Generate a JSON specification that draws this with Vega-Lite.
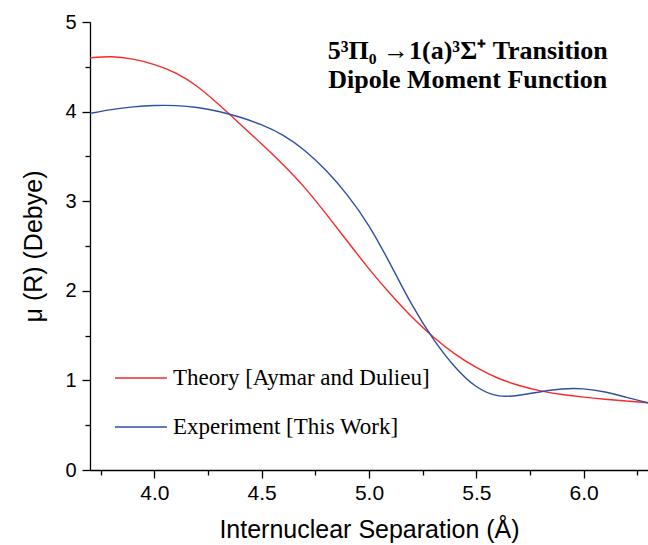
{
  "$schema": "https://vega.github.io/schema/vega-lite/v6.json",
  "width": 558,
  "height": 448,
  "autosize": "none",
  "padding": {"left": 90, "top": 22, "right": 0, "bottom": 75},
  "background": "white",
  "config": {
    "view": {"stroke": null},
    "axis": {"grid": false, "domainColor": "black", "tickColor": "black", "domainWidth": 1.3, "tickWidth": 1.3, "labelColor": "black", "titleColor": "black", "labelFont": "Liberation Sans", "titleFont": "Liberation Sans", "labelFontSize": 20, "titleFontSize": 25, "titleFontWeight": "normal"}
  },
  "datasets": {
    "curves": [
      {"R": 3.70, "mu": 4.60, "series": "Theory [Aymar and Dulieu]"},
      {"R": 3.80, "mu": 4.62, "series": "Theory [Aymar and Dulieu]"},
      {"R": 3.90, "mu": 4.59, "series": "Theory [Aymar and Dulieu]"},
      {"R": 4.00, "mu": 4.53, "series": "Theory [Aymar and Dulieu]"},
      {"R": 4.10, "mu": 4.44, "series": "Theory [Aymar and Dulieu]"},
      {"R": 4.20, "mu": 4.29, "series": "Theory [Aymar and Dulieu]"},
      {"R": 4.30, "mu": 4.08, "series": "Theory [Aymar and Dulieu]"},
      {"R": 4.40, "mu": 3.86, "series": "Theory [Aymar and Dulieu]"},
      {"R": 4.50, "mu": 3.64, "series": "Theory [Aymar and Dulieu]"},
      {"R": 4.60, "mu": 3.41, "series": "Theory [Aymar and Dulieu]"},
      {"R": 4.70, "mu": 3.16, "series": "Theory [Aymar and Dulieu]"},
      {"R": 4.80, "mu": 2.86, "series": "Theory [Aymar and Dulieu]"},
      {"R": 4.90, "mu": 2.55, "series": "Theory [Aymar and Dulieu]"},
      {"R": 5.00, "mu": 2.24, "series": "Theory [Aymar and Dulieu]"},
      {"R": 5.10, "mu": 1.96, "series": "Theory [Aymar and Dulieu]"},
      {"R": 5.20, "mu": 1.70, "series": "Theory [Aymar and Dulieu]"},
      {"R": 5.30, "mu": 1.48, "series": "Theory [Aymar and Dulieu]"},
      {"R": 5.40, "mu": 1.29, "series": "Theory [Aymar and Dulieu]"},
      {"R": 5.50, "mu": 1.14, "series": "Theory [Aymar and Dulieu]"},
      {"R": 5.60, "mu": 1.02, "series": "Theory [Aymar and Dulieu]"},
      {"R": 5.70, "mu": 0.94, "series": "Theory [Aymar and Dulieu]"},
      {"R": 5.80, "mu": 0.88, "series": "Theory [Aymar and Dulieu]"},
      {"R": 5.90, "mu": 0.84, "series": "Theory [Aymar and Dulieu]"},
      {"R": 6.00, "mu": 0.812, "series": "Theory [Aymar and Dulieu]"},
      {"R": 6.10, "mu": 0.79, "series": "Theory [Aymar and Dulieu]"},
      {"R": 6.20, "mu": 0.77, "series": "Theory [Aymar and Dulieu]"},
      {"R": 6.30, "mu": 0.75, "series": "Theory [Aymar and Dulieu]"},
      {"R": 3.70, "mu": 3.98, "series": "Experiment [This Work]"},
      {"R": 3.80, "mu": 4.025, "series": "Experiment [This Work]"},
      {"R": 3.90, "mu": 4.055, "series": "Experiment [This Work]"},
      {"R": 4.00, "mu": 4.07, "series": "Experiment [This Work]"},
      {"R": 4.10, "mu": 4.07, "series": "Experiment [This Work]"},
      {"R": 4.20, "mu": 4.05, "series": "Experiment [This Work]"},
      {"R": 4.30, "mu": 4.005, "series": "Experiment [This Work]"},
      {"R": 4.40, "mu": 3.94, "series": "Experiment [This Work]"},
      {"R": 4.50, "mu": 3.855, "series": "Experiment [This Work]"},
      {"R": 4.60, "mu": 3.745, "series": "Experiment [This Work]"},
      {"R": 4.70, "mu": 3.575, "series": "Experiment [This Work]"},
      {"R": 4.80, "mu": 3.35, "series": "Experiment [This Work]"},
      {"R": 4.90, "mu": 3.075, "series": "Experiment [This Work]"},
      {"R": 5.00, "mu": 2.74, "series": "Experiment [This Work]"},
      {"R": 5.10, "mu": 2.30, "series": "Experiment [This Work]"},
      {"R": 5.20, "mu": 1.83, "series": "Experiment [This Work]"},
      {"R": 5.30, "mu": 1.45, "series": "Experiment [This Work]"},
      {"R": 5.40, "mu": 1.14, "series": "Experiment [This Work]"},
      {"R": 5.50, "mu": 0.91, "series": "Experiment [This Work]"},
      {"R": 5.60, "mu": 0.81, "series": "Experiment [This Work]"},
      {"R": 5.70, "mu": 0.83, "series": "Experiment [This Work]"},
      {"R": 5.80, "mu": 0.875, "series": "Experiment [This Work]"},
      {"R": 5.90, "mu": 0.91, "series": "Experiment [This Work]"},
      {"R": 6.00, "mu": 0.912, "series": "Experiment [This Work]"},
      {"R": 6.10, "mu": 0.875, "series": "Experiment [This Work]"},
      {"R": 6.20, "mu": 0.81, "series": "Experiment [This Work]"},
      {"R": 6.30, "mu": 0.75, "series": "Experiment [This Work]"}
    ],
    "titles": [
      {"R": 5.46, "mu": 4.68, "text": "5³Π₀ →1(a)³Σ⁺ Transition"},
      {"R": 5.46, "mu": 4.35, "text": "Dipole Moment Function"}
    ]
  },
  "layer": [
    {
      "data": {"name": "curves"},
      "mark": {"type": "line", "interpolate": "basis", "strokeWidth": 1.4},
      "encoding": {
        "x": {"field": "R", "type": "quantitative", "scale": {"domain": [3.7, 6.3], "nice": false, "zero": false},
          "axis": {"title": "Internuclear Separation (Å)", "values": [3.75, 4.0, 4.25, 4.5, 4.75, 5.0, 5.25, 5.5, 5.75, 6.0, 6.25],
            "labelExpr": "(datum.value * 2) % 1 === 0 ? format(datum.value, '.1f') : ''",
            "tickSize": {"condition": {"test": "(datum.value * 2) % 1 !== 0", "value": 5}, "value": 8},
            "labelFontSize": 21, "labelPadding": 4, "titlePadding": 14}},
        "y": {"field": "mu", "type": "quantitative", "scale": {"domain": [0, 5], "nice": false},
          "axis": {"title": "μ (R) (Debye)", "values": [0, 0.5, 1, 1.5, 2, 2.5, 3, 3.5, 4, 4.5, 5],
            "labelExpr": "datum.value % 1 === 0 ? format(datum.value, 'd') : ''",
            "tickSize": {"condition": {"test": "datum.value % 1 !== 0", "value": 5}, "value": 8},
            "labelPadding": 6, "titlePadding": 18}},
        "color": {"field": "series", "type": "nominal",
          "scale": {"domain": ["Theory [Aymar and Dulieu]", "Experiment [This Work]"], "range": ["#f52a2a", "#2f4ea6"]},
          "legend": {"title": null, "orient": "none", "legendX": 24, "legendY": 329, "padding": 0,
            "symbolType": "stroke", "symbolSize": 2704, "symbolStrokeWidth": 1.4,
            "labelFont": "Liberation Serif", "labelFontSize": 23, "labelColor": "black", "labelOffset": 5, "rowPadding": 10, "labelLimit": 400}}
      }
    },
    {
      "data": {"name": "titles"},
      "mark": {"type": "text", "font": "Liberation Serif", "fontWeight": "bold", "fontSize": 26, "align": "center", "baseline": "middle", "color": "black"},
      "encoding": {
        "x": {"field": "R", "type": "quantitative"},
        "y": {"field": "mu", "type": "quantitative"},
        "text": {"field": "text"}
      }
    }
  ]
}
